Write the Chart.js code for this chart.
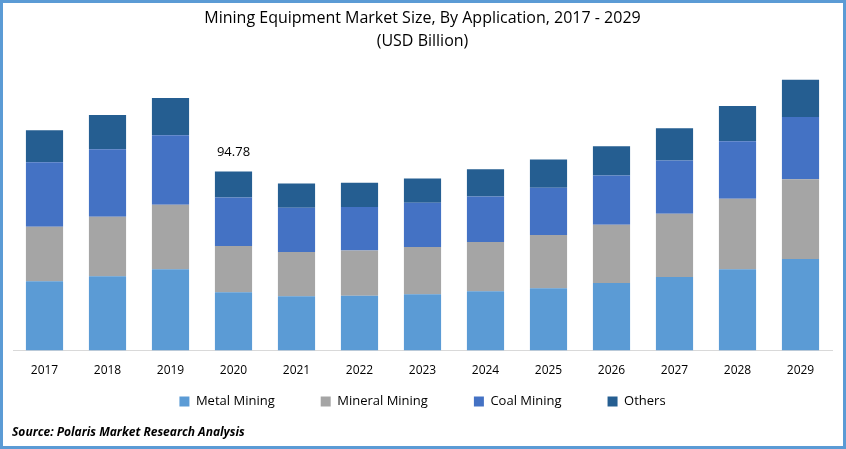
<!DOCTYPE html>
<html lang="en">
<head>
    <meta charset="UTF-8">
    <title>Mining Equipment Market Size</title>
    <style>
        body, html {
            margin: 0;
            padding: 0;
            background: #ffffff;
        }

        .frame {
            position: relative;
            width: 846px;
            height: 449px;
            box-sizing: border-box;
            border: 3px solid #5b9bd5;
            background: #ffffff;
            font-family: "Open Sans", Arial, sans-serif;
        }

        .source {
            position: absolute;
            left: 9px;
            top: 420px;
            font-size: 12px;
            font-weight: bold;
            font-style: italic;
            color: #000;
        }
    </style>
</head>
<body>
    <div class="frame">
        <canvas id="chart" width="840" height="443"></canvas>
        <div class="source">Source: Polaris Market Research Analysis</div>
    </div>

    <script src="https://cdn.jsdelivr.net/npm/chart.js"></script>
    <script>
        // values (USD Billion)
        const years = ['2017', '2018', '2019', '2020', '2021', '2022', '2023', '2024', '2025', '2026', '2027', '2028', '2029'];
        const metalMining   = [36.7, 39.4, 43.1, 30.9, 28.8, 29.0, 29.8, 31.4, 33.0, 35.7, 38.9, 43.1, 48.5];
        const mineralMining = [28.8, 31.4, 34.1, 24.5, 23.4, 23.9, 25.0, 26.1, 28.2, 30.9, 33.5, 37.3, 42.1];
        const coalMining    = [34.1, 35.7, 36.7, 25.6, 23.4, 23.1, 23.4, 24.0, 25.0, 26.1, 28.2, 30.4, 33.0];
        const others        = [17.0, 18.1, 19.7, 13.8, 12.8, 12.8, 12.8, 14.4, 14.9, 15.4, 17.0, 18.6, 19.7];
        const labelIndex = 3;
        const labelText = '94.78';

        const legendGap = 46;   // horizontal room between legend items
        const legendTrim = 34;  // drop most of that padding above the legend row

        // label above the 2020 bar
        const totalLabel = {
            id: 'totalLabel',
            afterDatasetsDraw(chart) {
                const bar = chart.getDatasetMeta(3).data[labelIndex];
                const ctx = chart.ctx;
                ctx.save();
                ctx.font = '13px "Open Sans", Arial, sans-serif';
                ctx.fillStyle = '#000';
                ctx.textAlign = 'center';
                ctx.textBaseline = 'middle';
                ctx.fillText(labelText, bar.x, bar.y - 19);
                ctx.restore();
            }
        };

        // wide gaps between legend items without the tall row that padding gives
        const tightLegend = {
            id: 'tightLegend',
            beforeInit(chart) {
                const legend = chart.legend;
                const fit = legend.fit;
                legend.fit = function () {
                    fit.call(this);
                    this.height -= legendTrim;
                };
            },
            afterLayout(chart) {
                chart.legend.top -= legendTrim;
            }
        };

        const ctx = document.getElementById('chart').getContext('2d');
        new Chart(ctx, {
            type: 'bar',
            data: {
                labels: years,
                datasets: [
                    { label: 'Metal Mining', data: metalMining, backgroundColor: '#5b9bd5' },
                    { label: 'Mineral Mining', data: mineralMining, backgroundColor: '#a5a5a5' },
                    { label: 'Coal Mining', data: coalMining, backgroundColor: '#4472c4' },
                    { label: 'Others', data: others, backgroundColor: '#255e91' }
                ]
            },
            options: {
                responsive: false,
                animation: false,
                layout: { padding: { left: 10, right: 11, top: 4, bottom: 28 } },
                datasets: { bar: { barPercentage: 0.59, categoryPercentage: 1.0 } },
                plugins: {
                    title: {
                        display: true,
                        text: ['Mining Equipment Market Size, By Application, 2017 - 2029', '(USD Billion)'],
                        color: '#000',
                        font: { family: '"Open Sans", Arial, sans-serif', size: 16, weight: 'normal', lineHeight: 1.45 },
                        padding: { top: 0, bottom: 8 }
                    },
                    legend: {
                        position: 'bottom',
                        labels: {
                            color: '#000',
                            boxWidth: 10,
                            boxHeight: 10,
                            padding: legendGap,
                            font: { family: '"Open Sans", Arial, sans-serif', size: 13 }
                        }
                    },
                    tooltip: { enabled: false }
                },
                scales: {
                    x: {
                        stacked: true,
                        grid: { display: false },
                        border: { display: true, color: '#d9d9d9' },
                        ticks: { color: '#000', padding: 5, font: { family: '"Open Sans", Arial, sans-serif', size: 12 } }
                    },
                    y: {
                        stacked: true,
                        display: false,
                        min: 0,
                        max: 153
                    }
                }
            },
            plugins: [totalLabel, tightLegend]
        });
    </script>
</body>
</html>
